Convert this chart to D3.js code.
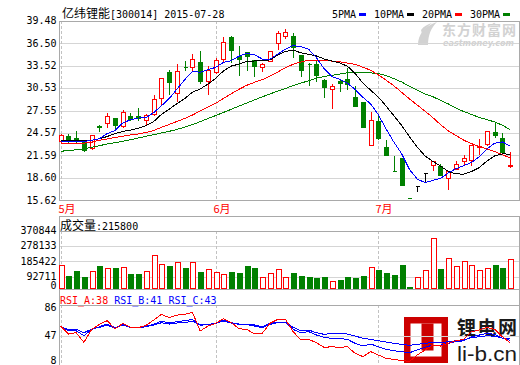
<!DOCTYPE html>
<html><head><meta charset="utf-8">
<script src="https://cdn.jsdelivr.net/npm/d3@7"></script>
<style>
html,body{margin:0;padding:0;background:#fff;}
svg{display:block;}
</style></head><body>
<svg id="c" width="520" height="365"></svg>
<script>
// ---------------- data ----------------
const stockName = "亿纬锂能";
const stockInfo = "[300014] 2015-07-28";
const maNames = ["5PMA","10PMA","20PMA","30PMA"];
const priceTicks = [15.62,18.60,21.59,24.57,27.55,30.53,33.52,36.50,39.48];
const volTicks = [0,92711,185422,278133,370844];
const rsiTicks = [8,47,86];
const monthLabels = ["5月","6月","7月"];
const monthIndex = [0,20,41];
const volTitle = "成交量";
const volValue = ":215800";
const rsiNames = ["RSI_A:38","RSI_B:41","RSI_C:43"];

const open = [23.47,24.14,23.91,23.47,22.58,25.51,25.87,26.57,25.47,26.84,
  26.84,26.31,27.14,29.19,32.69,29.86,33.40,33.36,34.02,31.54,
  32.65,34.46,37.31,34.86,35.31,34.33,33.32,34.20,36.51,37.44,
  37.44,35.00,33.80,33.76,31.67,30.39,31.46,31.76,29.37,28.70,
  23.02,26.13,22.71,19.52,21.25,15.95,17.52,19.27,20.28,20.14,
  18.59,19.79,20.81,21.02,22.77,23.11,24.71,23.91,20.18];
const high = [24.51,24.58,24.94,23.82,24.44,25.77,27.33,26.60,27.73,27.33,
  28.04,27.24,29.77,31.90,33.13,33.89,34.33,35.22,35.58,33.66,
  34.65,37.44,37.66,36.25,35.45,34.42,34.02,35.45,38.32,38.55,
  38.02,35.00,34.02,34.46,31.89,31.23,31.89,33.32,30.92,28.70,
  27.46,27.10,23.82,21.61,21.25,15.95,17.52,19.27,20.89,20.58,
  19.69,21.02,21.78,23.11,23.91,24.98,26.04,24.71,22.22];
const low = [23.44,23.25,23.25,22.14,22.49,24.80,25.33,24.98,25.33,26.35,
  26.35,25.68,26.93,28.26,29.77,28.79,33.00,33.00,31.23,29.77,
  32.56,34.12,33.98,32.25,33.00,32.12,32.79,34.12,35.79,37.22,
  34.65,32.12,31.00,31.54,29.33,27.90,30.21,30.47,28.13,25.41,
  22.94,23.82,21.61,19.48,17.70,15.93,16.90,18.06,19.69,18.95,
  17.16,19.79,20.36,20.36,21.78,23.02,24.00,22.05,20.01];
const close = [24.27,23.47,23.64,22.35,24.27,25.43,26.80,25.68,27.33,26.48,
  26.57,27.01,29.06,31.86,31.32,32.79,33.32,34.46,31.46,33.00,
  34.33,36.65,35.58,34.46,34.78,33.53,33.76,35.45,37.88,37.98,
  35.98,33.00,33.72,32.25,30.66,30.79,31.19,31.10,28.13,25.41,
  26.35,23.91,21.61,19.48,17.70,15.93,17.52,19.27,20.89,19.03,
  19.48,20.49,21.25,22.94,22.83,24.80,24.27,22.05,20.32];
const volume = [163100,95900,126500,89800,126500,157000,144800,144800,150900,108100,
  108100,126500,222400,167400,157000,181500,144800,181500,120400,138700,
  120400,108100,120400,114300,157000,146600,89800,112400,138700,89800,
  114300,95900,91600,85500,91600,63500,71500,91600,85500,97800,
  149100,132600,114300,102000,163100,30600,89800,130700,326200,138700,
  204100,155200,185700,161300,130700,143000,163100,144800,197900];
const ma5 = [23.42,23.45,23.48,23.45,23.60,23.83,24.50,24.91,25.90,26.34,
  26.57,26.61,27.29,28.20,29.16,30.41,31.67,32.75,32.67,33.01,
  33.31,33.98,34.20,34.80,35.16,35.00,34.42,34.40,35.08,35.72,
  36.21,36.06,35.71,34.59,33.12,32.08,31.72,31.20,30.37,29.32,
  28.44,26.98,25.08,23.35,21.81,19.73,18.45,17.98,18.26,18.53,
  19.24,19.83,20.23,20.64,21.40,22.46,23.22,23.38,22.85];
const ma10 = [23.58,23.58,23.58,23.58,23.61,23.81,24.11,24.51,24.78,24.97,
  25.20,25.56,26.10,27.05,27.75,28.49,29.14,30.02,30.43,31.09,
  31.86,32.83,33.48,33.74,34.08,34.16,34.20,34.30,34.94,35.44,
  35.61,35.24,35.05,34.83,34.42,34.15,33.89,33.46,32.48,31.22,
  30.26,29.35,28.14,26.86,25.57,24.08,22.71,21.53,20.81,20.17,
  19.48,19.14,19.10,19.45,19.96,20.85,21.53,21.80,21.75];
const ma20 = [23.20,23.20,23.21,23.23,23.35,23.62,23.78,23.98,24.14,24.31,
  24.44,24.64,24.91,25.33,25.71,26.11,26.51,26.97,27.50,28.03,
  28.53,29.19,29.79,30.39,30.92,31.32,31.67,32.16,32.69,33.26,
  33.73,34.03,34.27,34.29,34.25,34.15,34.05,33.88,33.71,33.33,
  32.93,32.30,31.60,30.85,29.99,29.11,28.30,27.49,26.64,25.70,
  24.87,24.25,23.62,23.16,22.77,22.47,22.12,21.67,21.28];
const ma30 = [22.14,22.25,22.34,22.49,22.67,22.89,23.11,23.29,23.47,23.68,
  23.91,24.14,24.35,24.58,24.80,25.05,25.35,25.70,26.08,26.50,
  26.90,27.31,27.73,28.15,28.57,28.98,29.38,29.77,30.15,30.50,
  30.89,31.21,31.54,31.87,32.09,32.26,32.41,32.59,32.62,32.58,
  32.58,32.47,32.22,31.81,31.36,30.80,30.27,29.76,29.41,28.94,
  28.45,27.91,27.43,27.05,26.65,26.36,26.04,25.60,25.01];
const rsiA = [59.3,49.1,50.8,38.5,55.0,61.4,66.1,55.5,62.7,57.6,
  57.2,60.1,66.9,74.1,69.9,73.2,74.1,76.6,52.9,59.3,
  62.7,68.6,63.9,55.9,55.0,49.5,50.0,62.7,67.7,67.7,
  52.1,41.5,42.3,38.1,32.2,33.0,32.2,33.0,24.6,20.4,
  26.7,22.4,18.2,17.0,15.3,14.4,22.4,28.8,35.1,33.9,
  37.3,40.6,42.3,52.1,54.2,57.6,55.0,45.7,38.0];
const rsiB = [57.6,53.3,53.3,47.0,55.0,58.4,61.8,57.2,61.0,57.6,
  57.2,59.3,61.4,65.6,63.1,64.8,66.1,67.7,60.1,61.4,
  62.7,66.9,63.5,61.4,61.0,59.3,57.2,61.4,63.5,63.5,
  55.0,50.8,52.1,47.9,44.9,43.6,43.6,42.3,37.3,33.9,
  36.4,33.0,29.6,27.9,26.7,25.4,28.8,32.2,35.1,35.1,
  37.3,39.4,40.6,45.7,47.8,50.0,48.7,43.6,41.0];
const rsiC = [58.4,55.0,55.0,50.8,55.5,57.6,60.6,56.3,60.6,57.6,
  57.2,58.4,60.6,63.5,61.8,63.1,63.9,65.2,61.0,61.4,
  62.7,65.6,63.1,61.8,61.8,60.6,58.4,62.7,63.9,63.9,
  57.6,53.3,54.2,50.8,48.7,50.0,50.0,49.1,46.6,43.6,
  42.3,40.6,39.0,37.3,36.0,34.7,36.0,37.3,38.5,38.1,
  39.4,40.6,41.5,44.5,45.7,47.0,46.2,44.0,43.0];

// ---------------- layout ----------------
const L = 59.5, R = 519.5;
const MONO = "'DejaVu Sans Mono', monospace";
const CJK = "'Noto Sans CJK SC', sans-serif";
const FRAME = "#a9a9a9", GRID = "#d5d5d5", DASH = "#c2c2c2";
const UP = "#ff0000", DOWN = "#008000", FLAT = "#000000";
const maColors = ["#0000ff","#000000","#ff0000","#008000"];

const svg = d3.select("#c");
const n = close.length;
const x = d3.scaleLinear().domain([0, n - 1]).range([60.7, 510.2]);
const yP = d3.scaleLinear().domain([15.62, 39.48]).range([200.3, 21]);
const yV = d3.scaleLinear().domain([0, 370844]).range([291.7, 231]);
const yR = d3.scaleLinear().domain([8, 86]).range([366.4, 305]);

// watermark bottom-right (under lines)
const wm = svg.append("g");
wm.append("rect").attr("x",404).attr("y",317).attr("width",44).attr("height",46).attr("fill","#cc0000");
wm.append("rect").attr("x",410.5).attr("y",323.5).attr("width",31).attr("height",33).attr("fill","#fff");
wm.append("rect").attr("x",421.5).attr("y",323.5).attr("width",12).attr("height",27).attr("fill","#cc0000");
wm.append("text").attr("x",457).attr("y",335).attr("font-family",CJK).attr("font-weight","bold")
  .attr("font-size",19).attr("fill","#1a1a1a").attr("textLength",60).text("锂电网");
wm.append("text").attr("x",457).attr("y",361).attr("font-family","'Liberation Sans', Arial, sans-serif")
  .attr("font-size",21).attr("fill","#1a1a1a").attr("textLength",60).attr("lengthAdjust","spacingAndGlyphs").text("li-b.cn");

// watermark top-right
const wt = svg.append("g").attr("fill","#d2d2d2");
wt.append("path").attr("d","M418,45 C418,35 424,26 437,22 C431,28 428,35 428,45 Z");
wt.append("path").attr("d","M421,30 C424,26 428,24 432,23 C427,27 424,30 422,34 Z");
wt.append("text").attr("x",442).attr("y",35).attr("font-family",CJK).attr("font-weight","bold")
  .attr("font-size",14).attr("textLength",74).text("东方财富网");
wt.append("text").attr("x",443).attr("y",46).attr("font-family","'DejaVu Sans', sans-serif").attr("font-weight","bold")
  .attr("font-style","italic").attr("font-size",9).attr("textLength",71).attr("lengthAdjust","spacingAndGlyphs").text("eastmoney.com");

// grids
function grid(scale, ticks){
  const g = svg.append("g").attr("transform",`translate(${L},0)`)
    .call(d3.axisRight(scale).tickValues(ticks).tickSize(R - L).tickFormat(""));
  g.select(".domain").remove();
  g.selectAll("line").attr("stroke",GRID).attr("shape-rendering","crispEdges");
}
grid(yP, priceTicks);
grid(yV, volTicks.filter(v => v > 0));
grid(yR, rsiTicks.filter(v => v > 8 && v < 86));

// axis labels
function labels(scale, ticks, fmt, lo, hi){
  const g = svg.append("g").attr("transform",`translate(${L},0)`)
    .call(d3.axisLeft(scale).tickValues(ticks).tickSize(0).tickPadding(3).tickFormat(fmt));
  g.select(".domain").remove();
  g.attr("font-family",MONO).attr("font-size",10);
  g.selectAll(".tick").attr("transform", d => {
    const yy = Math.max(lo, Math.min(hi, scale(d)));
    return `translate(0,${yy})`;
  });
  g.selectAll("text").attr("fill","#000");
}
labels(yP, priceTicks, d3.format(".2f"), 0, 999);
labels(yV, volTicks, d3.format("d"), 0, 286);
labels(yR, rsiTicks, d3.format("d"), 308, 361);

// month dashed lines and labels
monthIndex.forEach((mi, k) => {
  const xx = Math.round(x(mi)) + 0.5;
  [[21,200],[231,289],[305,365]].forEach(([a,b]) => {
    svg.append("line").attr("x1",xx).attr("x2",xx).attr("y1",a).attr("y2",b)
      .attr("stroke",DASH).attr("stroke-dasharray","3,2").attr("shape-rendering","crispEdges");
  });
  svg.append("text").attr("x", xx - 3).attr("y", 213).attr("font-family",CJK).attr("font-size",11)
    .attr("fill","#ff0000").text(monthLabels[k]);
});

// frames
const fr = svg.append("g").attr("stroke",FRAME).attr("fill","none").attr("shape-rendering","crispEdges");
fr.append("rect").attr("x",L).attr("y",21).attr("width",R-L).attr("height",179.5);
fr.append("line").attr("x1",L).attr("x2",L).attr("y1",216).attr("y2",365);
fr.append("line").attr("x1",R).attr("x2",R).attr("y1",216).attr("y2",365);
fr.append("line").attr("x1",L).attr("x2",R).attr("y1",216.5).attr("y2",216.5);
fr.append("line").attr("x1",L).attr("x2",R).attr("y1",yV(370844)).attr("y2",yV(370844));
fr.append("line").attr("x1",L).attr("x2",R).attr("y1",289.5).attr("y2",289.5);
fr.append("line").attr("x1",L).attr("x2",R).attr("y1",305).attr("y2",305);

// candles
function candleColor(i){
  if (close[i] > open[i]) return UP;
  if (close[i] < open[i]) return DOWN;
  return FLAT;
}
const cg = svg.append("g").attr("shape-rendering","crispEdges");
d3.range(n).forEach(i => {
  const px = Math.round(x(i));
  const col = candleColor(i);
  const top = Math.round(yP(Math.max(open[i], close[i]))) + 0.5;
  const bot = Math.round(yP(Math.min(open[i], close[i]))) + 0.5;
  const hi = Math.round(yP(high[i])) + 0.5;
  const lo = Math.round(yP(low[i])) + 0.5;
  const wx = px + 0.5;
  if (hi < top) cg.append("line").attr("x1",wx).attr("x2",wx).attr("y1",hi).attr("y2",top).attr("stroke",col);
  if (lo > bot) cg.append("line").attr("x1",wx).attr("x2",wx).attr("y1",bot).attr("y2",lo).attr("stroke",col);
  cg.append("path")
    .attr("d",`M${px-1.5},${top}H${px+2.5}V${bot}H${px-1.5}Z`)
    .attr("stroke",col)
    .attr("fill", col === UP ? "#fff" : col);
});

// moving averages
const maData = [ma5, ma10, ma20, ma30];
const maLine = d3.line().x((d,i) => x(i)).y(d => yP(d));
[3,2,1,0].forEach(k => {
  svg.append("path").attr("d", maLine(maData[k])).attr("fill","none")
    .attr("stroke", maColors[k]).attr("stroke-width",1).attr("shape-rendering","crispEdges");
});

// volume bars
const vg = svg.append("g").attr("shape-rendering","crispEdges");
d3.range(n).forEach(i => {
  const px = Math.round(x(i));
  let col = candleColor(i);
  if (col === FLAT) col = (i > 0 && close[i] >= close[i-1]) ? UP : DOWN;
  const top = Math.round(yV(volume[i])) + 0.5;
  vg.append("path")
    .attr("d",`M${px-1.5},${top}H${px+3.5}V288.5H${px-1.5}Z`)
    .attr("stroke",col)
    .attr("fill", col === UP ? "#fff" : col);
});

// RSI lines
const rLine = d3.line().x((d,i) => x(i)).y(d => yR(d));
[[rsiC,"#0000ff"],[rsiB,"#0000ff"],[rsiA,"#ff0000"]].forEach(([arr,c]) => {
  svg.append("path").attr("d", rLine(arr)).attr("fill","none").attr("stroke",c)
    .attr("stroke-width",1).attr("shape-rendering","crispEdges");
});

// titles
const t = svg.append("text").attr("x",62).attr("y",18).attr("fill","#000");
t.append("tspan").attr("font-family",CJK).attr("font-size",12).text(stockName);
t.append("tspan").attr("font-family",MONO).attr("font-size",10).text(stockInfo);

// legend
let lx = 332;
maNames.forEach((nm,k) => {
  svg.append("text").attr("x",lx).attr("y",18).attr("font-family",MONO).attr("font-size",10)
    .attr("fill","#000").text(nm);
  const bx = lx + nm.length * 6 + 3;
  svg.append("rect").attr("x",bx).attr("y",13).attr("width",7).attr("height",3)
    .attr("fill",maColors[k]).attr("shape-rendering","crispEdges");
  lx = bx + 7 + 8;
});

// volume title
const vt = svg.append("text").attr("x",60).attr("y",229.5).attr("fill","#000");
vt.append("tspan").attr("font-family",CJK).attr("font-size",12).text(volTitle);
vt.append("tspan").attr("font-family",MONO).attr("font-size",10).text(volValue);

// RSI title
const rt = svg.append("text").attr("x",60).attr("y",303.5).attr("font-family",MONO).attr("font-size",10);
const rCols = ["#ff0000","#0000ff","#0000ff"];
rsiNames.forEach((s,k) => {
  rt.append("tspan").attr("fill",rCols[k]).text((k ? " " : "") + s);
});
</script>
</body></html>
